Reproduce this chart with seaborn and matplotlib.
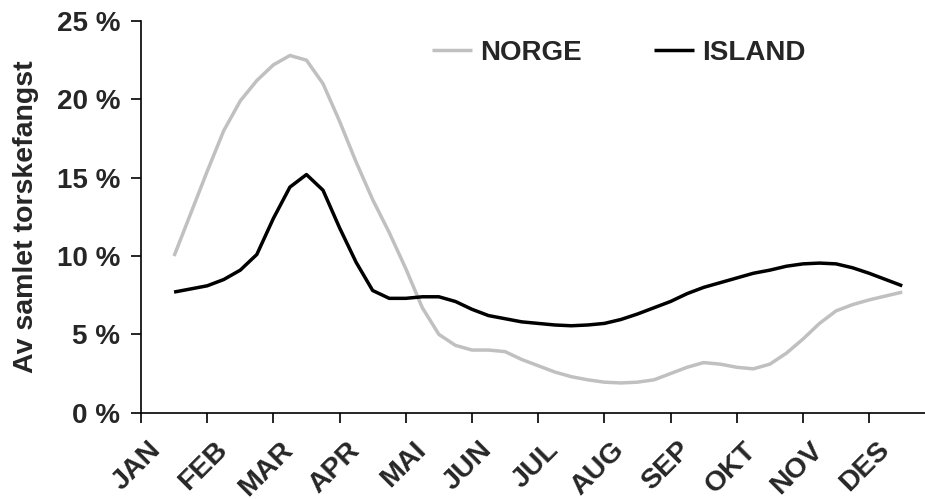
import numpy as np
import pandas as pd
import matplotlib
matplotlib.use("Agg")
import matplotlib.pyplot as plt
import matplotlib.transforms as mtransforms
import seaborn as sns

# --- Data (andel av samlet torskefangst, %) ---
maaneder = ['JAN', 'FEB', 'MAR', 'APR', 'MAI', 'JUN',
            'JUL', 'AUG', 'SEP', 'OKT', 'NOV', 'DES']

# tid i maaneder (0 = JAN), kvart-maaned oppløsning
tid = np.arange(45) / 4

norge = [10.0, 12.7, 15.4, 18.0, 19.9, 21.2, 22.2, 22.8, 22.5, 21.0,
         18.6, 16.0, 13.6, 11.5, 9.2, 6.7, 5.0, 4.3, 4.0, 4.0,
         3.9, 3.4, 3.0, 2.6, 2.3, 2.1, 1.95, 1.9, 1.95, 2.1,
         2.5, 2.9, 3.2, 3.1, 2.9, 2.8, 3.1, 3.8, 4.7, 5.7,
         6.5, 6.9, 7.2, 7.45, 7.7]

island = [7.7, 7.9, 8.1, 8.5, 9.1, 10.1, 12.4, 14.4, 15.2, 14.2,
          11.8, 9.6, 7.8, 7.3, 7.3, 7.4, 7.4, 7.1, 6.6, 6.2,
          6.0, 5.8, 5.7, 5.6, 5.55, 5.6, 5.7, 5.95, 6.3, 6.7,
          7.1, 7.6, 8.0, 8.3, 8.6, 8.9, 9.1, 9.35, 9.5, 9.55,
          9.5, 9.25, 8.9, 8.5, 8.1]

y_ticks = [0, 5, 10, 15, 20, 25]
y_labels = [f'{v} %' for v in y_ticks]

df = pd.DataFrame({
    'tid': np.concatenate([tid, tid]),
    'andel': norge + island,
    'land': ['NORGE'] * len(norge) + ['ISLAND'] * len(island),
})

sns.set_theme(style='white')
plt.rcParams['font.family'] = ['Liberation Sans', 'DejaVu Sans']
plt.rcParams['font.weight'] = 'bold'

fig = plt.figure(figsize=(9.25, 4.99), dpi=100)
ax = fig.add_axes([0.1524, 0.1729, 0.8588, 0.785])

sns.lineplot(data=df, x='tid', y='andel', hue='land',
             palette={'NORGE': '#c0c0c0', 'ISLAND': '#000000'},
             linewidth=2.5, ax=ax)
for ln in ax.get_lines():
    ln.set_solid_joinstyle('round')
    ln.set_solid_capstyle('butt')

ax.set_xlim(-0.5, 11.5)
ax.set_ylim(0, 25)
ax.set_xlabel('')
ax.set_ylabel('Av samlet torskefangst', fontsize=20.5, fontweight='bold', labelpad=13)

ax.set_yticks(y_ticks)
ax.set_yticklabels(y_labels, fontsize=20, fontweight='bold')
ax.tick_params(axis='y', direction='out', length=7, width=1.2, color='black', pad=8, left=True)

# kategorier i midten, tick-merker på grensene
ax.set_xticks(range(len(maaneder)))
ax.set_xticklabels(maaneder, fontsize=20.5, fontweight='bold', rotation=45,
                   ha='right', va='center', rotation_mode='anchor')
ax.set_xticks(np.arange(-0.5, 12, 1), minor=True)
ax.tick_params(axis='x', which='major', length=0, pad=24)
ax.tick_params(axis='x', which='minor', direction='out', length=7, width=1.2,
               color='black', bottom=True)
offset = mtransforms.ScaledTranslation(-0.17, 0, fig.dpi_scale_trans)
for lbl in ax.get_xticklabels():
    lbl.set_transform(lbl.get_transform() + offset)

for side in ['top', 'right']:
    ax.spines[side].set_visible(False)
for side in ['left', 'bottom']:
    ax.spines[side].set_color('black')
    ax.spines[side].set_linewidth(1.2)

leg = ax.legend(loc='center left', bbox_to_anchor=(432 / 925, 1 - 52.7 / 499),
                bbox_transform=fig.transFigure, ncol=2, frameon=False,
                fontsize=20, handlelength=1.44, handletextpad=0.3,
                columnspacing=2.6, borderpad=0, borderaxespad=0)
for t in leg.get_texts():
    t.set_fontweight('bold')
for h in leg.get_lines():
    h.set_linewidth(2.5)

fig.savefig('out.png', dpi=100)
plt.close(fig)
